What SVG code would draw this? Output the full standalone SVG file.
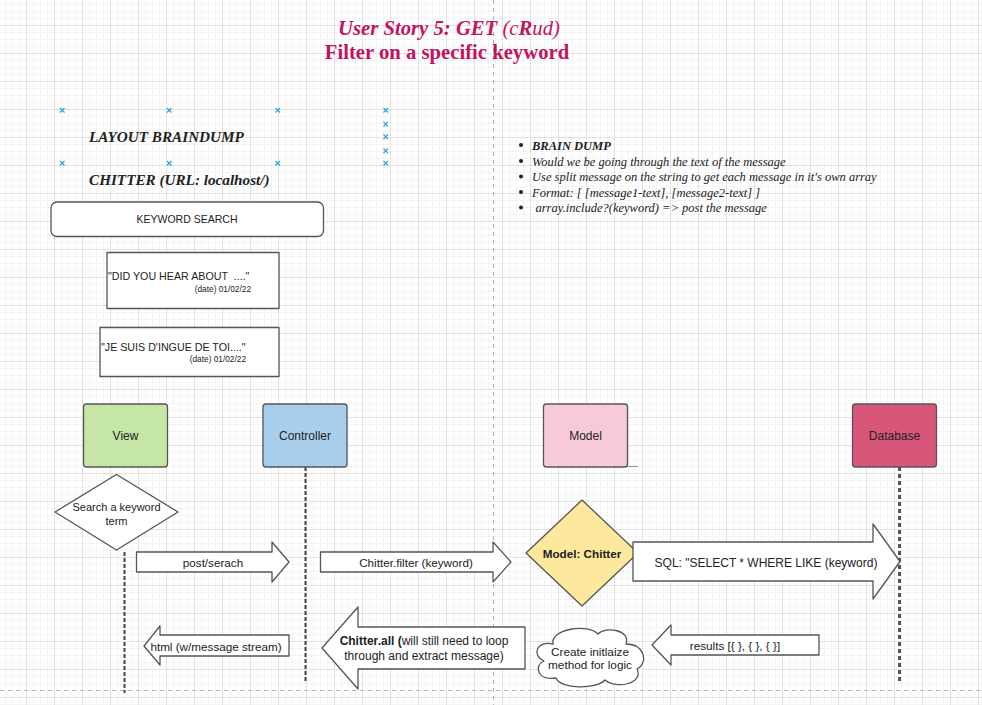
<svg xmlns="http://www.w3.org/2000/svg" width="982" height="705" viewBox="0 0 982 705">
<defs>
<pattern id="grid" patternUnits="userSpaceOnUse" x="-2" y="-3" width="28" height="28">
<rect width="28" height="28" fill="#ffffff"/>
<path d="M7.5 0V28M14.5 0V28M21.5 0V28M0 7.5H28M0 14.5H28M0 21.5H28" stroke="#f4f4f4" stroke-width="1" fill="none"/>
<path d="M0.5 0V28M0 0.5H28" stroke="#e1e1e1" stroke-width="1" fill="none"/>
</pattern>
<style>
.sans{font-family:"Liberation Sans",Arial,Helvetica,sans-serif;fill:#222}
.serif{font-family:"Liberation Serif","Times New Roman",serif;fill:#222}
.node{stroke:#555;stroke-width:1.3}
.shape{fill:#ffffff;stroke:#555;stroke-width:1.3;stroke-linejoin:round}
.life{fill:none;stroke:#444;stroke-width:2;stroke-dasharray:4 2}
.brk{fill:none;stroke:#b3b3b3;stroke-width:1;stroke-dasharray:4 4}
.mark{stroke:#2aa3e8;stroke-width:1.2;fill:none}
.title{font-family:"Liberation Serif","Times New Roman",serif;fill:#c4125f;font-weight:bold;font-size:20.7px}
.dump{font-family:"Liberation Serif","Times New Roman",serif;fill:#222;font-size:12.5px;font-style:italic}
</style>
</defs>
<rect width="982" height="705" fill="url(#grid)"/>
<path class="brk" d="M493.5 0V705M0 690.5H982"/>

<g id="title">
<text class="title" x="449" y="35" text-anchor="middle" font-style="italic">User Story 5: GET <tspan font-weight="normal">(c</tspan>R<tspan font-weight="normal">ud)</tspan></text>
<text class="title" x="447" y="59" text-anchor="middle">Filter on a specific keyword</text>
</g>

<g id="selection-marks" class="mark">
<path d="M60 108l4.5 4.5M64.5 108l-4.5 4.5"/>
<path d="M167 108l4.5 4.5M171.5 108l-4.5 4.5"/>
<path d="M275.5 108l4.5 4.5M280 108l-4.5 4.5"/>
<path d="M383.5 108l4.5 4.5M388 108l-4.5 4.5"/>
<path d="M383.5 122l4.5 4.5M388 122l-4.5 4.5"/>
<path d="M383.5 134.5l4.5 4.5M388 134.5l-4.5 4.5"/>
<path d="M383.5 148.5l4.5 4.5M388 148.5l-4.5 4.5"/>
<path d="M383.5 161l4.5 4.5M388 161l-4.5 4.5"/>
<path d="M60 161l4.5 4.5M64.5 161l-4.5 4.5"/>
<path d="M167 161l4.5 4.5M171.5 161l-4.5 4.5"/>
<path d="M275.5 161l4.5 4.5M280 161l-4.5 4.5"/>
</g>

<g id="layout-braindump">
<text class="serif" x="89" y="142" font-size="15.2" font-weight="bold" font-style="italic">LAYOUT BRAINDUMP</text>
<text class="serif" x="89" y="185" font-size="15.2" font-weight="bold" font-style="italic">CHITTER (URL: localhost/)</text>
</g>

<g id="brain-dump">
<g fill="#222">
<circle cx="521" cy="145" r="2"/>
<circle cx="521" cy="161" r="2"/>
<circle cx="521" cy="176.5" r="2"/>
<circle cx="521" cy="192" r="2"/>
<circle cx="521" cy="207.5" r="2"/>
</g>
<text class="dump" x="532" y="149.5" font-weight="bold">BRAIN DUMP</text>
<text class="dump" x="532" y="165.5">Would we be going through the text of the message</text>
<text class="dump" x="532" y="181">Use split message on the string to get each message in it's own array</text>
<text class="dump" x="532" y="196.5">Format: [ [message1-text], [message2-text] ]</text>
<text class="dump" x="535.5" y="212">array.include?(keyword) =&gt; post the message</text>
</g>

<g id="keyword-search">
<rect class="shape" x="51" y="202" width="272.5" height="34.5" rx="6"/>
<text class="sans" x="187" y="223" font-size="10.5" text-anchor="middle">KEYWORD SEARCH</text>
</g>

<g id="message-1">
<rect class="shape" x="107" y="252.5" width="172" height="56"/>
<text class="sans" x="108" y="280" font-size="10.7" xml:space="preserve">"DID YOU HEAR ABOUT  ...."</text>
<text class="sans" x="251" y="292" font-size="8.3" text-anchor="end">(date) 01/02/22</text>
</g>

<g id="message-2">
<rect class="shape" x="100" y="327.5" width="179" height="49"/>
<text class="sans" x="101" y="351" font-size="10.7">"JE SUIS D'INGUE DE TOI...."</text>
<text class="sans" x="246" y="362" font-size="8.3" text-anchor="end">(date) 01/02/22</text>
</g>

<g id="connectors">
<path class="life" d="M305.5 467V683"/>
<path class="life" d="M124.5 552V693"/>
<path fill="none" stroke="#555" stroke-width="3" stroke-dasharray="4 3" d="M899.5 467V682"/>
</g>

<g id="view">
<rect class="node" x="83.5" y="404" width="84" height="63" rx="3" fill="#c5e6a6"/>
<text class="sans" x="125.5" y="440" font-size="12" text-anchor="middle">View</text>
</g>
<g id="controller">
<rect class="node" x="263" y="404" width="84" height="63" rx="3" fill="#a9ceec"/>
<text class="sans" x="305" y="440" font-size="12" text-anchor="middle">Controller</text>
</g>
<g id="model">
<rect class="node" x="543.5" y="404" width="84" height="63" rx="3" fill="#f8cad9"/>
<path d="M627 466.5H638" stroke="#777" stroke-width="0.8"/>
<text class="sans" x="585.5" y="440" font-size="12" text-anchor="middle">Model</text>
</g>
<g id="database">
<rect class="node" x="852.5" y="404" width="84" height="63" rx="3" fill="#d9567b"/>
<text class="sans" x="894.5" y="440" font-size="12" text-anchor="middle">Database</text>
</g>

<g id="search-term">
<path class="shape" d="M116.5 474.5L178 512L116.5 550L55 512Z"/>
<text class="sans" x="116.5" y="511" font-size="11" text-anchor="middle">Search a keyword</text>
<text class="sans" x="116.5" y="525" font-size="11" text-anchor="middle">term</text>
</g>

<g id="model-chitter">
<path class="shape" style="fill:#fee89e" d="M582 500L638 553L582 606L526 553Z"/>
<text class="sans" x="582" y="557.5" font-size="11.7" font-weight="bold" text-anchor="middle">Model: Chitter</text>
</g>

<g id="arrow-post-search">
<path class="shape" d="M136.5 552H272V542L289 562L272 582V572H136.5Z"/>
<text class="sans" x="213" y="567" font-size="11.7" text-anchor="middle">post/serach</text>
</g>
<g id="arrow-chitter-filter">
<path class="shape" d="M320.5 552H493V542L511 562L493 582V572H320.5Z"/>
<text class="sans" x="416" y="567" font-size="11.7" text-anchor="middle">Chitter.filter (keyword)</text>
</g>
<g id="arrow-sql">
<path class="shape" d="M633 542H873V524L900 561.5L873 599V581H633Z"/>
<text class="sans" x="766" y="567" font-size="12" text-anchor="middle">SQL: "SELECT * WHERE LIKE (keyword)</text>
</g>
<g id="arrow-results">
<path class="shape" d="M819 635H671V625L652 645L671 665V655H819Z"/>
<text class="sans" x="735" y="650" font-size="11.7" text-anchor="middle">results [{ }, { }, { }]</text>
</g>
<g id="arrow-chitter-all">
<path class="shape" d="M525 627H358V607L322 648L358 689V669H525Z"/>
<text class="sans" x="424" y="645" font-size="12" text-anchor="middle"><tspan font-weight="bold">Chitter.all (</tspan>will still need to loop</text>
<text class="sans" x="424" y="660" font-size="12" text-anchor="middle">through and extract message)</text>
</g>
<g id="arrow-html">
<path class="shape" d="M289 635H160V626L144 646L160 665V656H289Z"/>
<text class="sans" x="216" y="651" font-size="11.7" text-anchor="middle">html (w/message stream)</text>
</g>

<g id="cloud">
<path class="shape" d="M553 644C550 629 588 623 598 634C606 626 631 630 626 644C646 644 648 664 637 669C644 683 617 690 605 680C596 690 560 689 556 678C538 681 533 666 544 661C531 655 537 640 553 644Z"/>
<text class="sans" x="590" y="656" font-size="11.8" text-anchor="middle">Create initlaize</text>
<text class="sans" x="590" y="669" font-size="11.8" text-anchor="middle">method for logic</text>
</g>
</svg>
